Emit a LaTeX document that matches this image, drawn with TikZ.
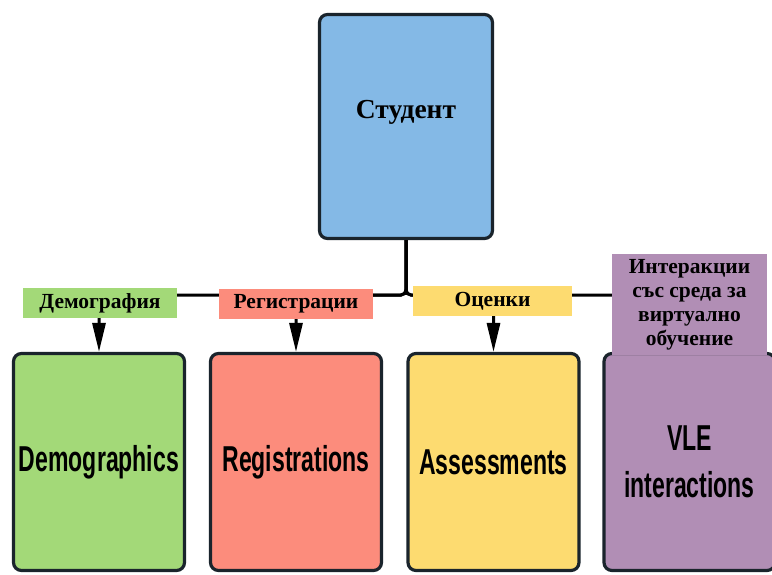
\documentclass[tikz,border=0pt]{standalone}
\usepackage{fontspec}
\setmainfont{Liberation Serif}
\newfontfamily\cardfont[FakeStretch=0.64]{Liberation Sans}
\usetikzlibrary{arrows.meta}

\definecolor{studentblue}{HTML}{84B9E6}
\definecolor{demogreen}{HTML}{A3D978}
\definecolor{regred}{HTML}{FC8C7C}
\definecolor{assessyellow}{HTML}{FDDB70}
\definecolor{vlepurple}{HTML}{B18EB5}
\definecolor{edge}{HTML}{1A242C}

\begin{document}
\begin{tikzpicture}[x=1pt,y=-1pt,
  card/.style={draw=edge, line width=3.2pt, rounded corners=8pt,
    minimum width=171pt, minimum height=217pt, inner sep=0pt,
    font=\cardfont\bfseries\fontsize{36}{47}\selectfont, align=center},
  tag/.style={inner sep=0pt, align=center,
    font=\bfseries\fontsize{21.5}{24}\selectfont},
  conn/.style={line width=3pt, draw=black, rounded corners=5pt,
    -{Triangle[length=29pt,width=13pt]}}]
\clip (0,0) rectangle (772,575);
\fill[white] (0,0) rectangle (772,575);

% root entity
\node[card, fill=studentblue, minimum width=173pt, minimum height=224pt] (student) at (406,126.5) {};
\node[font=\bfseries\fontsize{27.5}{30}\selectfont] (studentname) at (406,112) {Студент};

% data tables
\node[card, fill=demogreen] (demo) at (99,462) {Demographics};
\node[card, fill=regred] (reg) at (296,462) {Registrations};
\node[card, fill=assessyellow] (assess) at (493.5,462) {Assessments};
\node[card, fill=vlepurple] (vle) at (689.5,462) {VLE\\interactions};

% tree connectors
\coordinate (hub) at (406,295);
\draw[conn] (student.south) -- (hub) -| (demo.north);
\draw[conn] (student.south) -- (hub) -| (reg.north);
\draw[conn] (student.south) -- (hub) -| (assess.north);
\draw[conn] (student.south) -- (hub) -| (vle.north);

% Bulgarian captions
\node[tag, fill=demogreen, minimum width=154pt, minimum height=30pt] (demotag) at (100,303) {Демография};
\node[tag, fill=regred, minimum width=154pt, minimum height=30pt] (regtag) at (296,304) {Регистрации};
\node[tag, fill=assessyellow, minimum width=159pt, minimum height=30pt] (assesstag) at (492.5,301) {Оценки};
\node[tag, fill=vlepurple, minimum width=155pt, minimum height=101pt] (vletag) at (689.5,304.5) {Интеракции\\със среда за\\виртуално\\обучение};
\end{tikzpicture}
\end{document}
